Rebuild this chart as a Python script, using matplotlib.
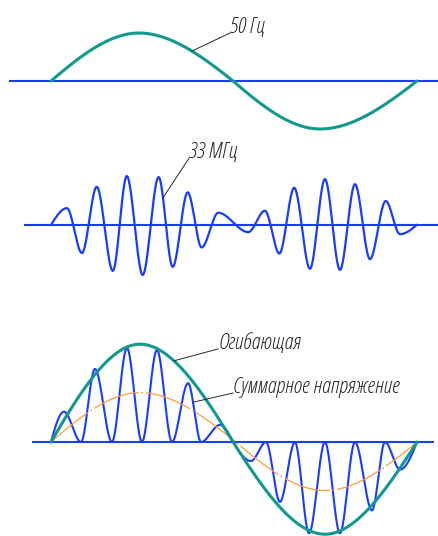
import numpy as np
import matplotlib.pyplot as plt

# time in ms, one period of the 50 Hz wave
# 50 Hz wave: zero crossings and extrema
hz50_t = [0.0, 4.8, 9.95, 14.7, 20.0]
hz50_v = [0.0, 1.0, 0.0, -1.0, 0.0]

# 33 MHz burst: start, alternating peaks / troughs, end
mhz_t = [0.0, 0.87, 1.69, 2.50, 3.38, 4.14, 5.01, 5.88, 6.65, 7.47, 8.23,
         9.14, 10.78, 11.69, 12.48, 13.29, 14.15, 14.97, 15.79, 16.61,
         17.43, 18.29, 19.07, 19.98]
mhz_v = [0.0, 0.33, -0.55, 0.75, -0.90, 0.96, -0.98, 0.94, -0.82,
         0.64, -0.44, 0.24, -0.14, 0.28, -0.56, 0.73, -0.86, 0.90, -0.88,
         0.80, -0.67, 0.47, -0.18, 0.0]

# envelope of the modulated signal
env_t = [0.0, 4.86, 9.95, 14.97, 20.0]
env_v = [0.0, 1.03, 0.0, -0.97, 0.0]

# thin dash-dot wave (mean value)
mean_t = [0.0, 4.86, 10.1, 14.97, 20.0]
mean_v = [0.0, 0.52, 0.0, -0.51, 0.0]

# total voltage: carrier swinging between zero and the envelope
total_t = [0.0, 0.71, 1.64, 2.40, 3.33, 4.15, 4.97, 5.79, 6.61, 7.49, 8.20,
           9.23, 9.95, 10.93, 11.75, 12.51, 13.33, 14.10, 14.97, 15.79,
           16.61, 17.54, 18.25, 19.07, 20.0]
total_v = [0.0, 0.32, 0.0, 0.77, 0.0, 0.99, 0.0, 0.97, 0.0, 0.62, 0.0,
           0.18, 0.0, -0.20, 0.0, -0.63, 0.0, -0.96, 0.0, -0.96, 0.0,
           -0.72, 0.0, -0.29, 0.0]
total_cross = [0, 12, 24]   # points where the curve passes through zero

TEAL = '#12998d'
BLUE = '#1a3cff'
ORANGE = '#ff9a3a'
INK = '#262626'
# Open Sans resolves to the condensed light italic face with these props
FONT = dict(family=['Open Sans', 'DejaVu Sans'], style='italic',
            weight=300, stretch='condensed', fontsize=15.8, color=INK)


def smooth(tk, vk, cross, n=40):
    # cubic hermite through the key points; flat at extrema,
    # sine-like slope where the curve crosses zero
    tt, vv = [], []
    for i in range(len(tk) - 1):
        t0, t1, v0, v1 = tk[i], tk[i + 1], vk[i], vk[i + 1]
        h = t1 - t0
        chord = (v1 - v0) / h
        m0 = np.pi / 2 * chord if i in cross else 0.0
        m1 = np.pi / 2 * chord if i + 1 in cross else 0.0
        s = np.linspace(0, 1, n)
        h00 = 2 * s**3 - 3 * s**2 + 1
        h10 = s**3 - 2 * s**2 + s
        h01 = -2 * s**3 + 3 * s**2
        h11 = s**3 - s**2
        tt.append(t0 + s * h)
        vv.append(h00 * v0 + h10 * h * m0 + h01 * v1 + h11 * h * m1)
    return np.concatenate(tt), np.concatenate(vv)


def leader(ax, t, tt, vv, text_t, text_v, label):
    y = np.interp(t, tt, vv)
    ax.plot([t, text_t], [y, text_v], color=INK, lw=0.7, zorder=5)
    ax.text(text_t, text_v, label, ha='left', va='baseline', **FONT)


fig = plt.figure(figsize=(4.39, 5.36), dpi=100)
ax1 = fig.add_axes([0, 0.7388, 1, 0.2612])
ax2 = fig.add_axes([0, 0.4403, 1, 0.2985])
ax3 = fig.add_axes([0, 0.0, 1, 0.4403])

xlim = (-2.787, 21.202)
for ax in (ax1, ax2, ax3):
    ax.set_xlim(*xlim)
    ax.axis('off')
ax1.set_ylim(-1.229, 1.6875)
ax2.set_ylim(-1.471, 1.667)
ax3.set_ylim(-0.989, 1.495)

# top: 50 Hz
ax1.plot([-2.24, 21.3], [0, 0], color=BLUE, lw=1.5)
t1, v1 = smooth(hz50_t, hz50_v, [0, 2, 4])
ax1.plot(t1, v1, color=TEAL, lw=2.2, solid_capstyle='round')
leader(ax1, 7.70, t1, v1, 9.78, 1.0, '50 Гц')

# middle: 33 MHz
ax2.plot([-1.42, 21.3], [0, 0], color=BLUE, lw=1.5)
t2, v2 = smooth(mhz_t, mhz_v, [0, len(mhz_t) - 1])
ax2.plot(t2, v2, color=BLUE, lw=1.6)
leader(ax2, 6.12, t2, v2, 7.54, 1.31, '33 МГц')

# bottom: modulated signal
ax3.plot([-0.98, 20.87], [0, 0], color=BLUE, lw=1.5)
t3, v3 = smooth(total_t, total_v, total_cross)
ax3.plot(t3, v3, color=BLUE, lw=1.5)
tm, vm = smooth(mean_t, mean_v, [0, 2, 4])
ax3.plot(tm, vm, color=ORANGE, lw=0.9, dashes=(38, 2.2, 1.5, 2.2))
te, ve = smooth(env_t, env_v, [0, 2, 4])
ax3.plot(te, ve, color=TEAL, lw=2.2, solid_capstyle='round')
leader(ax3, 6.72, te, ve, 9.13, 0.98, 'Огибающая')
leader(ax3, 7.76, t3, v3, 9.95, 0.516, 'Суммарное напряжение')

fig.savefig('out.png', dpi=100)
